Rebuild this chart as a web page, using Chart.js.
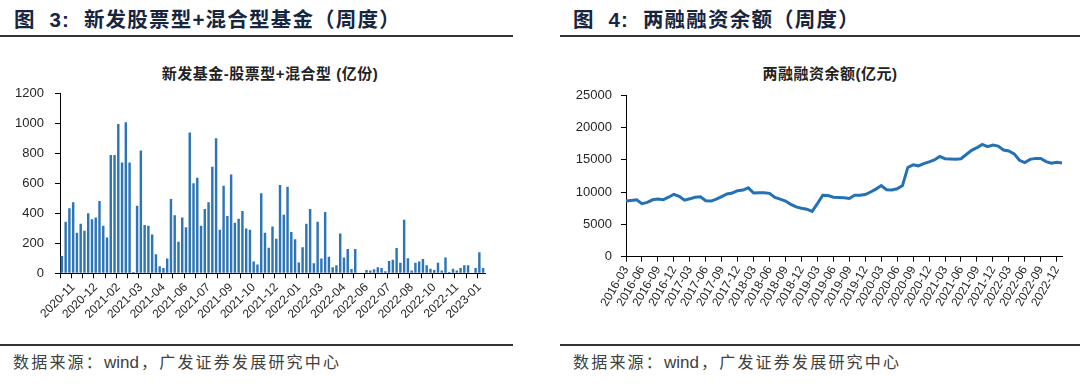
<!DOCTYPE html>
<html>
<head>
<meta charset="utf-8">
<script src="https://cdn.jsdelivr.net/npm/chart.js@4.4.1/dist/chart.umd.min.js"></script>
<style>
  html, body { margin: 0; padding: 0; background: #fff; }
  #page { position: relative; width: 1080px; height: 386px; overflow: hidden;
          font-family: "Liberation Sans", "Noto Sans CJK SC", sans-serif; }
  .head { position: absolute; top: 6px; font-size: 20.5px; font-weight: bold; color: #17253f;
          letter-spacing: 1.2px; white-space: nowrap; line-height: 28px; }
  .rule { position: absolute; height: 2px; background: #333; }
  .title { position: absolute; top: 64px; font-size: 15px; font-weight: bold; color: #222;
           text-align: center; line-height: 20px; letter-spacing: 0.5px; white-space: nowrap; }
  .foot { position: absolute; top: 352px; font-size: 16px; color: #404040; letter-spacing: 2.2px;
          line-height: 22px; white-space: nowrap; }
  .foot span { letter-spacing: 0; font-size: 17px; margin-right: 2px; }
  canvas { position: absolute; }
</style>
</head>
<body>
<div id="page">
  <div class="head" style="left:14px">图&nbsp;&nbsp;3:&nbsp;&nbsp;新发股票型+混合型基金（周度）</div>
  <div class="rule" style="left:0;top:35px;width:513px"></div>
  <div class="head" style="left:573px">图&nbsp;&nbsp;4:&nbsp;&nbsp;两融融资余额（周度）</div>
  <div class="rule" style="left:560px;top:35px;width:520px"></div>

  <div class="title" style="left:0;width:540px">新发基金-股票型+混合型 (亿份)</div>
  <div class="title" style="left:580px;width:500px">两融融资余额(亿元)</div>

  <canvas id="fundChart" width="520" height="270" style="left:0;top:60px"></canvas>
  <canvas id="marginChart" width="540" height="270" style="left:540px;top:60px"></canvas>

  <div class="rule" style="left:0;top:344px;width:513px"></div>
  <div class="rule" style="left:560px;top:344px;width:520px"></div>
  <div class="foot" style="left:13px">数据来源：<span>wind</span>，广发证券发展研究中心</div>
  <div class="foot" style="left:573px">数据来源：<span>wind</span>，广发证券发展研究中心</div>
</div>

<script>
// 新发基金 (亿份), weekly
const fundTickLabels = ['2020-11', '2020-12', '2021-02', '2021-03', '2021-04', '2021-06', '2021-07',
    '2021-09', '2021-10', '2021-12', '2022-01', '2022-03', '2022-04', '2022-06', '2022-07',
    '2022-08', '2022-10', '2022-11', '2023-01'];
const fundValues = [
    116, 344, 434, 474, 270, 331, 284, 400, 360, 373, 483, 317, 239, 789, 789, 997, 740, 1008, 740, 9,
    451, 820, 322, 317, 259, 127, 47, 36, 98, 496, 387, 210, 373, 308, 939, 601, 637, 317, 429, 474,
    711, 901, 291, 585, 382, 659, 337, 364, 416, 299, 291, 78, 58, 534, 270, 170, 313, 230, 590, 391,
    577, 275, 228, 72, 174, 331, 429, 67, 344, 98, 409, 110, 40, 54, 266, 105, 163, 29, 163, 0,
    0, 22, 18, 27, 40, 36, 13, 82, 91, 169, 71, 358, 100, 18, 71, 78, 96, 53, 31, 22,
    71, 18, 105, 9, 31, 18, 36, 53, 53, 0, 36, 140, 36
];

// 两融融资余额 (亿元), monthly from 2016-03
const marginTickLabels = ['2016-03', '2016-06', '2016-09', '2016-12', '2017-03', '2017-06', '2017-09',
    '2017-12', '2018-03', '2018-06', '2018-09', '2018-12', '2019-03', '2019-06', '2019-09', '2019-12',
    '2020-03', '2020-06', '2020-09', '2020-12', '2021-03', '2021-06', '2021-09', '2021-12', '2022-03',
    '2022-06', '2022-09', '2022-12'];
const marginValues = [
    8600, 8700, 8800, 8200, 8400, 8800, 8900, 8800, 9200, 9650,
    9350, 8750, 8950, 9200, 9250, 8650, 8600, 8900, 9300, 9700, 9850, 10200,
    10300, 10650, 9850, 9900, 9900, 9800, 9150, 8900, 8600, 8100, 7700, 7500,
    7350, 7000, 8200, 9500, 9450, 9200, 9150, 9100, 9000, 9500, 9500, 9600,
    10000, 10450, 11000, 10350, 10300, 10500, 11000, 13800, 14200, 14050, 14400, 14650,
    14950, 15500, 15150, 15100, 15050, 15150, 15800, 16450, 16850, 17350, 17000, 17250,
    17100, 16500, 16350, 15900, 14900, 14550, 15050, 15200, 15200, 14700, 14450, 14600,
    14500
];

const axisFont = { family: '"Liberation Sans", Arial, sans-serif', size: 13 };
const xFont = { family: '"Liberation Sans", Arial, sans-serif', size: 12 };
const textColor = '#262626';
const plain = v => String(v);

// labels every 6 weeks, tick marks every 3
const fundLabels = fundValues.map((v, i) => (i - 3) % 6 === 0 ? fundTickLabels[(i - 3) / 6] : '');
const marginLabels = marginValues.map((v, i) => i % 3 === 0 ? marginTickLabels[i / 3] : '');

new Chart(document.getElementById('fundChart'), {
    type: 'bar',
    data: {
        labels: fundLabels,
        datasets: [{
            data: fundValues,
            backgroundColor: '#2e75b6',
            categoryPercentage: 1,
            barPercentage: 0.65
        }]
    },
    options: {
        responsive: false,
        animation: false,
        layout: { padding: { top: 33.5, right: 35, left: 0, bottom: 0 } },
        plugins: { legend: { display: false }, tooltip: { enabled: false } },
        scales: {
            x: {
                afterFit: s => { s.height = 56.7; },
                grid: {
                    offset: true, drawOnChartArea: false, tickLength: 5,
                    tickColor: c => c.index % 3 === 0 ? '#000' : 'rgba(0,0,0,0)'
                },
                border: { color: '#000' },
                ticks: { autoSkip: false, minRotation: 45, maxRotation: 45, font: xFont, color: textColor, padding: 2 }
            },
            y: {
                min: 0, max: 1200,
                afterFit: s => { s.width = 60; },
                grid: { drawOnChartArea: false, tickLength: 5, color: '#000' },
                border: { color: '#000' },
                ticks: { stepSize: 200, font: axisFont, color: textColor, padding: 11, callback: plain }
            }
        }
    }
});

new Chart(document.getElementById('marginChart'), {
    type: 'line',
    data: {
        labels: marginLabels,
        datasets: [{
            data: marginValues,
            borderColor: '#2571b5',
            borderWidth: 3,
            pointRadius: 0,
            tension: 0,
            fill: false
        }]
    },
    options: {
        responsive: false,
        animation: false,
        layout: { padding: { top: 35, right: 18, left: 0, bottom: 0 } },
        plugins: { legend: { display: false }, tooltip: { enabled: false } },
        scales: {
            x: {
                afterFit: s => { s.height = 73.3; },
                grid: {
                    drawOnChartArea: false, tickLength: 5,
                    tickColor: c => c.index % 3 === 0 ? '#000' : 'rgba(0,0,0,0)'
                },
                border: { color: '#000' },
                ticks: { autoSkip: false, minRotation: 60, maxRotation: 60, font: xFont, color: textColor, padding: 2 }
            },
            y: {
                min: 0, max: 25000,
                afterFit: s => { s.width = 86; },
                grid: { drawOnChartArea: false, tickLength: 5, color: '#000' },
                border: { color: '#000' },
                ticks: { stepSize: 5000, font: axisFont, color: textColor, padding: 9, callback: plain }
            }
        }
    }
});
</script>
</body>
</html>
